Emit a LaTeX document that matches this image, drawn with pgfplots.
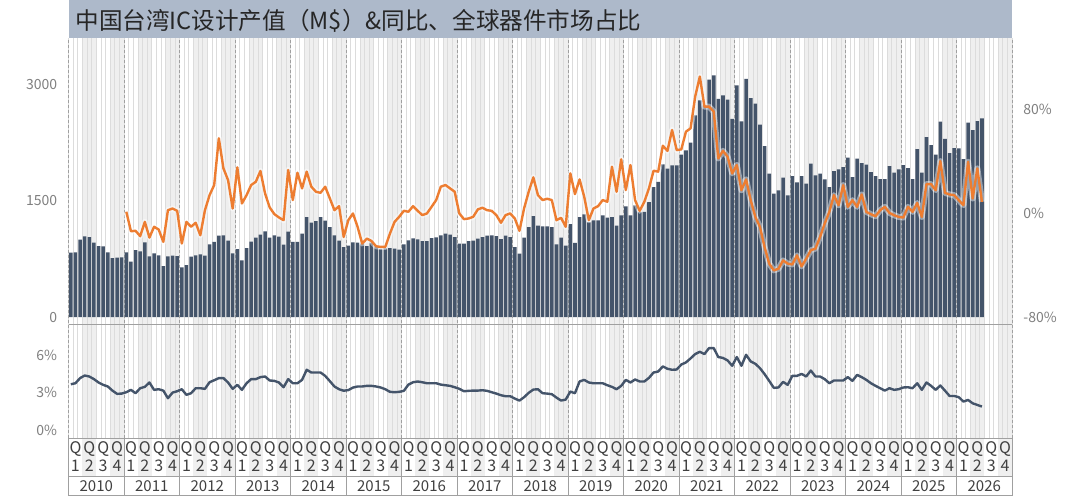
\documentclass[border=0pt]{standalone}
\usepackage{pgfplots}
\usepackage{pgfplotstable}
\pgfplotsset{compat=1.18}
\usepackage{fontspec}
\setmainfont{Noto Sans CJK SC}
\definecolor{barblue}{HTML}{44546A}
\definecolor{orng}{HTML}{ED7D31}
\definecolor{titlebg}{HTML}{ADB9CA}
\definecolor{qshade}{HTML}{EFEFEF}
\definecolor{monthline}{HTML}{DCDCDC}
\definecolor{yearline}{HTML}{A0A0A0}
\definecolor{tickgray}{HTML}{808080}
\definecolor{labdark}{HTML}{404040}

\pgfplotstableread{
i rev yoy share
0 830 nan 3.67
1 834 nan 3.75
2 998 nan 4.16
3 1041 nan 4.37
4 1032 nan 4.29
5 959 nan 4.08
6 916 nan 3.81
7 912 nan 3.62
8 834 nan 3.49
9 761 nan 3.16
10 765 nan 2.90
11 770 nan 2.92
12 834 1.1 3.03
13 714 -13.9 3.22
14 864 -13.6 2.95
15 847 -17.7 3.35
16 963 -6.7 3.46
17 783 -18.8 3.81
18 821 -10.5 3.22
19 796 -12.6 3.27
20 658 -22.1 3.16
21 783 2.3 2.55
22 791 3.6 3.00
23 787 1.8 3.11
24 641 -23.4 3.27
25 671 -6.7 2.82
26 778 -10.5 2.95
27 796 -7.4 3.35
28 808 -17.0 3.35
29 791 2.3 3.30
30 937 13.9 3.83
31 968 21.7 3.99
32 1049 57.7 4.16
33 1053 34.5 4.16
34 985 25.5 3.81
35 821 3.6 3.30
36 877 35.3 3.62
37 731 7.5 3.22
38 890 13.9 3.75
39 972 21.7 4.08
40 1023 24.2 4.08
41 1062 32.5 4.24
42 1105 15.2 4.29
43 1023 4.4 3.97
44 1053 -0.7 3.94
45 1036 -3.3 3.81
46 933 -5.4 3.43
47 1101 33.3 4.08
48 968 10.1 3.75
49 968 31.2 3.75
50 1075 19.1 4.02
51 1290 32.0 4.83
52 1217 20.4 4.61
53 1238 16.5 4.61
54 1290 15.7 4.61
55 1243 20.4 4.34
56 1161 11.4 3.92
57 1053 2.3 3.49
58 985 5.4 3.27
59 903 -18.3 3.15
60 920 -5.4 3.20
61 963 -0.2 3.40
62 959 -10.5 3.49
63 946 -23.4 3.49
64 916 -19.6 3.54
65 959 -21.4 3.54
66 912 -25.5 3.49
67 880 -26.0 3.41
68 886 -26.0 3.27
69 890 -15.7 3.06
70 882 -6.7 3.03
71 869 -2.8 3.06
72 937 1.8 3.14
73 989 1.1 3.64
74 1015 5.4 3.83
75 1002 1.8 3.89
76 980 -1.5 3.83
77 980 -0.2 3.75
78 1019 4.9 3.75
79 1028 10.1 3.75
80 1053 20.4 3.64
81 1075 21.7 3.59
82 1062 19.1 3.54
83 1032 16.5 3.43
84 946 -0.2 3.30
85 946 -4.6 3.11
86 980 -4.1 3.14
87 985 -2.8 3.16
88 1010 2.9 3.16
89 1032 4.2 3.19
90 1049 2.3 3.14
91 1053 1.8 3.03
92 1045 -1.5 2.92
93 1006 -7.4 2.79
94 1049 -1.5 2.71
95 1032 -0.2 2.71
96 903 -4.1 2.52
97 817 -13.6 2.36
98 1023 3.6 2.63
99 1161 16.5 2.98
100 1303 27.6 3.24
101 1178 13.9 3.27
102 1170 10.1 2.95
103 1170 11.1 2.92
104 1161 10.1 2.87
105 937 -5.4 2.60
106 1023 -3.6 2.36
107 920 -10.5 2.44
108 1200 30.7 3.08
109 955 14.7 2.95
110 1290 26.0 3.89
111 1324 12.7 4.02
112 1225 -5.4 3.81
113 1247 3.6 3.75
114 1247 5.4 3.75
115 1312 10.1 3.75
116 1281 8.8 3.59
117 1290 35.8 3.46
118 1178 16.5 3.27
119 1312 41.5 3.54
120 1428 17.8 4.02
121 1312 37.1 3.81
122 1441 10.1 4.05
123 1355 1.8 3.89
124 1355 8.8 3.89
125 1483 19.1 4.18
126 1677 32.7 4.61
127 1742 32.0 4.69
128 1969 52.0 5.10
129 1913 48.0 4.91
130 1956 64.1 4.83
131 1956 48.6 4.85
132 2094 49.2 5.25
133 2150 62.8 5.42
134 2250 65.4 5.74
135 2601 89.9 6.09
136 2795 105.3 6.27
137 2731 82.1 6.09
138 3062 82.1 6.57
139 3117 78.3 6.57
140 2816 42.2 5.85
141 2860 48.1 5.78
142 2804 43.5 5.58
143 2558 30.6 5.15
144 2988 37.1 5.85
145 2524 17.7 5.15
146 3074 26.0 6.03
147 2825 10.0 5.50
148 2752 -2.9 5.31
149 2481 -10.6 4.96
150 2206 -26.1 4.48
151 1849 -38.9 3.94
152 1591 -44.1 3.38
153 1634 -42.8 3.41
154 1797 -36.4 3.86
155 1569 -38.9 3.62
156 1819 -39.5 4.34
157 1737 -32.5 4.34
158 1819 -41.0 4.50
159 1720 -35.1 4.29
160 1978 -28.6 4.77
161 1828 -27.3 4.29
162 1849 -18.3 4.29
163 1776 -8.0 4.08
164 1677 1.0 3.75
165 1883 13.9 3.97
166 1905 6.1 3.97
167 1935 21.6 3.97
168 2055 4.9 4.24
169 1806 10.0 3.94
170 2042 4.9 4.42
171 1987 14.4 4.24
172 1965 1.0 4.02
173 1870 -0.8 3.75
174 1819 -2.4 3.54
175 1780 2.3 3.35
176 1780 4.9 3.16
177 1948 0.2 3.35
178 1862 -1.6 3.22
179 1905 -2.9 3.27
180 1961 -3.4 3.41
181 1922 4.9 3.43
182 1780 1.0 3.35
183 2167 7.9 3.75
184 1862 -2.9 3.22
185 2322 22.4 3.81
186 2219 22.4 3.54
187 2094 17.7 3.22
188 2520 40.1 3.57
189 2300 15.7 3.16
190 2115 14.4 2.73
191 2180 13.9 2.73
192 2176 10.0 2.63
193 2038 6.1 2.28
194 2507 39.6 2.41
195 2412 11.3 2.14
196 2528 34.5 2.01
197 2563 8.7 1.88
}\data

\begin{document}
\begin{tikzpicture}
\useasboundingbox (0,0) rectangle (540pt,248pt);
\fill[white] (0,0) rectangle (540pt,248pt);
% quarter shading (Q2, Q4)
\foreach \y in {0,...,16}{
  \foreach \q in {1,3}{
    \pgfmathsetmacro{\xa}{34.25+(\y*12+\q*3)*2.3125}
    \pgfmathsetmacro{\xb}{34.25+(\y*12+\q*3+3)*2.3125}
    \fill[fill=qshade] (\xa pt,10pt) rectangle (\xb pt,229pt);
  }
}
% month lines
\foreach \m in {0,...,204}{
  \pgfmathsetmacro{\xa}{34.25+\m*2.3125}
  \draw[draw=monthline,line width=0.35pt] (\xa pt,29pt) -- (\xa pt,229pt);
}
% year lines
\foreach \y in {0,...,17}{
  \pgfmathsetmacro{\xa}{34.25+\y*27.75}
  \draw[draw=yearline,line width=0.4pt,dash pattern=on 1.5pt off 1pt] (\xa pt,29pt) -- (\xa pt,229pt);
  \draw[draw=yearline,line width=0.4pt] (\xa pt,0pt) -- (\xa pt,29pt);
}
% horizontal lines
\draw[draw=yearline,line width=0.4pt] (34.25pt,86pt) -- (506pt,86pt);
\draw[draw=yearline,line width=0.4pt] (34.25pt,29pt) -- (506pt,29pt);
\draw[draw=yearline,line width=0.4pt] (34.25pt,10pt) -- (506pt,10pt);
\draw[draw=yearline,line width=0.4pt] (34.25pt,0.2pt) -- (506pt,0.2pt);

% top panel: bars
\begin{axis}[at={(34.25pt,86pt)}, anchor=south west, scale only axis,
  width=471.75pt, height=143pt, xmin=0, xmax=204, ymin=-90, ymax=3600,
  axis line style={draw=none}, major tick length=0pt, xtick=\empty,
  ytick={0,1500,3000}, yticklabels={0,1500,3000},
  yticklabel style={font=\fontsize{7}{8}\selectfont, text=tickgray, inner sep=0pt, xshift=-5.5pt},
  clip=false]
\addplot[ybar, bar width=0.78, fill=barblue, draw=none] table[x expr=\thisrow{i}+0.5, y=rev] {\data};
\end{axis}
% top panel: yoy
\begin{axis}[at={(34.25pt,86pt)}, anchor=south west, scale only axis,
  width=471.75pt, height=143pt, xmin=0, xmax=204, ymin=-85.4, ymax=135,
  axis line style={draw=none}, major tick length=0pt, xtick=\empty,
  yticklabel pos=right,
  ytick={-80,0,80}, yticklabels={-80\%,0\%,80\%},
  yticklabel style={font=\fontsize{7}{8}\selectfont, text=tickgray, inner sep=0pt, xshift=5.5pt},
  unbounded coords=jump, clip=false]
\addplot[white, opacity=0.45, line width=3pt, line join=round] table[x expr=\thisrow{i}+0.5, y=yoy] {\data};
\addplot[orng, line width=1.2pt, line join=round] table[x expr=\thisrow{i}+0.5, y=yoy] {\data};
\end{axis}
% bottom panel: share
\begin{axis}[at={(34.25pt,29pt)}, anchor=south west, scale only axis,
  width=471.75pt, height=57pt, xmin=0, xmax=204, ymin=-0.64, ymax=8.5,
  axis line style={draw=none}, major tick length=0pt, xtick=\empty,
  ytick={0,3,6}, yticklabels={0\%,3\%,6\%},
  yticklabel style={font=\fontsize{7}{8}\selectfont, text=tickgray, inner sep=0pt, xshift=-5.5pt},
  clip=false]
\addplot[barblue, line width=1.2pt, line join=round] table[x expr=\thisrow{i}+0.5, y=share] {\data};
\end{axis}

% x labels
\foreach \y in {0,...,16}{
  \foreach \q in {1,...,4}{
    \pgfmathsetmacro{\xa}{34.25+(\y*12+(\q-1)*3+1.5)*2.3125}
    \node[font=\fontsize{8}{9}\selectfont, text=labdark, inner sep=0pt] at (\xa pt,23.6pt) {Q};
    \node[font=\fontsize{8}{9}\selectfont, text=labdark, inner sep=0pt] at (\xa pt,15.3pt) {\q};
  }
  \pgfmathsetmacro{\xc}{34.25+(\y*12+6)*2.3125}
  \pgfmathtruncatemacro{\yr}{2010+\y}
  \node[font=\fontsize{7.5}{8}\selectfont, text=labdark, inner sep=0pt] at (\xc pt,5pt) {\yr};
}

% title
\fill[fill=titlebg] (34.25pt,229.2pt) rectangle (506pt,248pt);
\node[anchor=west, inner sep=0pt, font=\fontsize{11.8}{13}\selectfont, text=black!85] at (37.5pt,237.8pt) {中国台湾IC设计产值（M\$）\&同比、全球器件市场占比};
\end{tikzpicture}
\end{document}
